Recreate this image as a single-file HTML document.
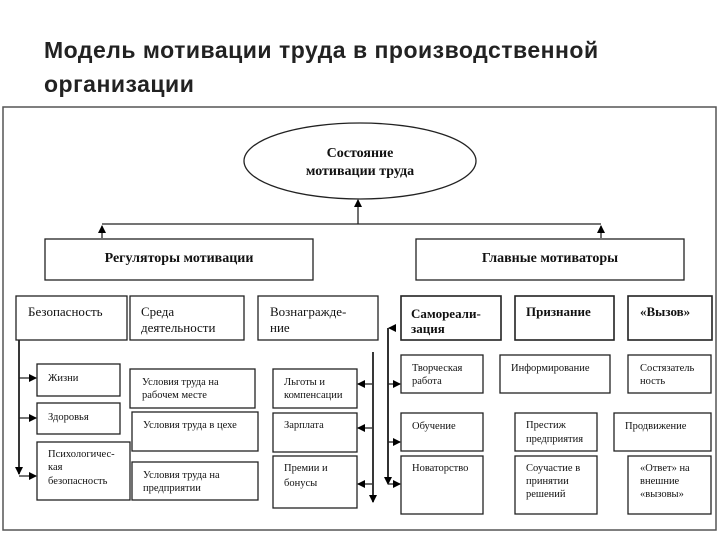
<!DOCTYPE html>
<html><head><meta charset="utf-8"><style>
body{margin:0;width:720px;height:540px;background:#fff;overflow:hidden;position:relative}
.t{position:absolute;left:44px;font:bold 23px "Liberation Sans",sans-serif;letter-spacing:0.5px;color:#222}
svg{position:absolute;left:0;top:0}
svg text{font-family:"Liberation Serif",serif;fill:#111}
</style></head><body>
<div class="t" style="top:37px">Модель мотивации труда в производственной</div>
<div class="t" style="top:71px">организации</div>
<svg width="720" height="540" viewBox="0 0 720 540">
<defs><marker id="a" markerWidth="8" markerHeight="8" refX="7" refY="4" orient="auto" markerUnits="userSpaceOnUse"><path d="M0,0L8,4L0,8z" fill="#000"/></marker></defs>
<g fill="none" stroke="#222" stroke-width="1.3">
<rect x="3" y="107" width="713" height="423" stroke="#555" stroke-width="1.5"/>
<ellipse cx="360" cy="161" rx="116" ry="38"/>
<polyline points="102,224 601,224"/>
<line x1="358" y1="224" x2="358" y2="200" marker-end="url(#a)"/>
<line x1="102" y1="238" x2="102" y2="226" marker-end="url(#a)"/>
<line x1="601" y1="238" x2="601" y2="226" marker-end="url(#a)"/>
<rect x="45" y="239" width="268" height="41"/>
<rect x="416" y="239" width="268" height="41"/>
<rect x="16" y="296" width="111" height="44"/>
<rect x="130" y="296" width="114" height="44"/>
<rect x="258" y="296" width="120" height="44"/>
<rect x="401" y="296" width="100" height="44" stroke-width="1.6"/>
<rect x="515" y="296" width="99" height="44" stroke-width="1.6"/>
<rect x="628" y="296" width="84" height="44" stroke-width="1.6"/>
<rect x="37" y="364" width="83" height="32"/>
<rect x="37" y="403" width="83" height="31"/>
<rect x="37" y="442" width="93" height="58"/>
<rect x="130" y="369" width="125" height="39"/>
<rect x="132" y="412" width="126" height="39"/>
<rect x="132" y="462" width="126" height="38"/>
<rect x="273" y="369" width="84" height="39"/>
<rect x="273" y="413" width="84" height="39"/>
<rect x="273" y="456" width="84" height="52"/>
<rect x="401" y="355" width="82" height="38"/>
<rect x="500" y="355" width="110" height="38"/>
<rect x="628" y="355" width="83" height="38"/>
<rect x="401" y="413" width="82" height="38"/>
<rect x="515" y="413" width="82" height="38"/>
<rect x="614" y="413" width="97" height="38"/>
<rect x="401" y="456" width="82" height="58"/>
<rect x="515" y="456" width="82" height="58"/>
<rect x="628" y="456" width="83" height="58"/>
<line x1="19" y1="340" x2="19" y2="474" marker-end="url(#a)" stroke-width="1.8"/>
<line x1="19" y1="378" x2="36" y2="378" marker-end="url(#a)"/>
<line x1="19" y1="418" x2="36" y2="418" marker-end="url(#a)"/>
<line x1="19" y1="476" x2="36" y2="476" marker-end="url(#a)"/>
<line x1="373" y1="352" x2="373" y2="502" marker-end="url(#a)" stroke-width="1.8"/>
<line x1="372" y1="384" x2="358" y2="384" marker-end="url(#a)"/>
<line x1="372" y1="428" x2="358" y2="428" marker-end="url(#a)"/>
<line x1="372" y1="484" x2="358" y2="484" marker-end="url(#a)"/>
<line x1="388" y1="478" x2="388" y2="328" stroke-width="1.8"/>
<line x1="388" y1="328" x2="388" y2="484" marker-end="url(#a)"/>
<line x1="388" y1="384" x2="400" y2="384" marker-end="url(#a)"/>
<line x1="388" y1="442" x2="400" y2="442" marker-end="url(#a)"/>
<line x1="388" y1="484" x2="400" y2="484" marker-end="url(#a)"/>
<line x1="395" y1="328" x2="389" y2="328" marker-end="url(#a)"/>
</g>
<g font-size="14" font-weight="bold" text-anchor="middle">
<text x="360" y="157">Состояние</text>
<text x="360" y="175">мотивации труда</text>
<text x="179" y="262">Регуляторы мотивации</text>
<text x="550" y="262">Главные мотиваторы</text>
</g>
<g font-size="13">
<text x="28" y="316">Безопасность</text>
<text x="141" y="316">Среда</text>
<text x="141" y="332">деятельности</text>
<text x="270" y="316">Вознагражде-</text>
<text x="270" y="332">ние</text>
<text x="411" y="318" font-weight="bold">Самореали-</text>
<text x="411" y="333" font-weight="bold">зация</text>
<text x="526" y="316" font-weight="bold">Признание</text>
<text x="640" y="316" font-weight="bold">«Вызов»</text>
</g>
<g font-size="10.5">
<text x="48" y="381">Жизни</text>
<text x="48" y="420">Здоровья</text>
<text x="48" y="457">Психологичес-</text>
<text x="48" y="470">кая</text>
<text x="48" y="484">безопасность</text>
<text x="142" y="385">Условия труда на</text>
<text x="142" y="398">рабочем месте</text>
<text x="143" y="428">Условия труда в цехе</text>
<text x="143" y="478">Условия труда на</text>
<text x="143" y="491">предприятии</text>
<text x="284" y="385">Льготы и</text>
<text x="284" y="398">компенсации</text>
<text x="284" y="428">Зарплата</text>
<text x="284" y="471">Премии  и</text>
<text x="284" y="486">бонусы</text>
<text x="412" y="371">Творческая</text>
<text x="412" y="384">работа</text>
<text x="511" y="371">Информирование</text>
<text x="640" y="371">Состязатель</text>
<text x="640" y="384">ность</text>
<text x="412" y="429">Обучение</text>
<text x="526" y="428">Престиж</text>
<text x="526" y="442">предприятия</text>
<text x="625" y="429">Продвижение</text>
<text x="412" y="471">Новаторство</text>
<text x="526" y="471">Соучастие в</text>
<text x="526" y="484">принятии</text>
<text x="526" y="497">решений</text>
<text x="640" y="471">«Ответ» на</text>
<text x="640" y="484">внешние</text>
<text x="640" y="497">«вызовы»</text>
</g>
</svg>
</body></html>
